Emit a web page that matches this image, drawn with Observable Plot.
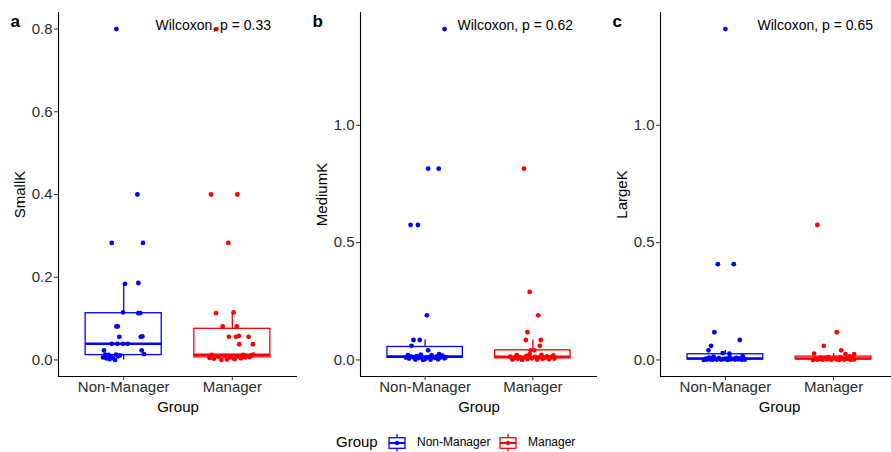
<!DOCTYPE html>
<html>
<head>
<meta charset="utf-8">
<script src="https://cdn.jsdelivr.net/npm/d3@7"></script>
<script src="https://cdn.jsdelivr.net/npm/@observablehq/plot@0.6"></script>
<style>
html, body { margin: 0; padding: 0; background: #fff; overflow: hidden; width: 891px; height: 452px; }
#wrap { position: relative; width: 891px; height: 452px; overflow: hidden; font-family: "Liberation Sans", Arial, sans-serif; }
.panel { position: absolute; top: 0; }
.lg { position: absolute; top: 432px; height: 20px; line-height: 20px; color: #000; white-space: nowrap; }
</style>
</head>
<body>
<div id="wrap"></div>
<script>
// ---------- data ----------
const groups = ["Non-Manager", "Manager"];
const groupColors = ["#0000FF", "#FF0000"];

// SmallK
const smallNonManager = [0.80, 0.40, 0.283, 0.283, 0.184, 0.186, 0.115, 0.113, 0.113, 0.081, 0.081, 0.056, 0.056, 0.057,
  0.039, 0.039, 0.039, 0.039, 0.023, 0.023, 0.014,
  0.000, 0.002, 0.004, 0.005, 0.006, 0.008, 0.009, 0.011, 0.012, 0.013, 0.013];
const smallNonManagerJitter = [-0.067, 0.126, -0.11, 0.178, 0.012, 0.135, -0.006, 0.135, 0.152, -0.067, -0.055, -0.04, 0.157, 0.172,
  -0.11, -0.058, -0.006, 0.037, -0.181, 0.166, 0.187,
  -0.08, -0.13, -0.16, -0.10, -0.19, -0.12, -0.05, -0.035, -0.14, -0.17, -0.07];
const smallManager = [0.80, 0.40, 0.40, 0.283, 0.113, 0.115, 0.081, 0.081, 0.056, 0.056, 0.058, 0.056, 0.038, 0.038,
  0.000, 0.001, 0.002, 0.003, 0.004, 0.005, 0.006, 0.006, 0.007, 0.008, 0.009, 0.010, 0.011, 0.012, 0.012, 0.013];
const smallManagerJitter = [-0.147, -0.196, 0.046, -0.037, -0.15, 0.012, -0.089, 0.041, -0.032, 0.034, 0.06, 0.15, 0.064, 0.19,
  -0.10, -0.05, 0.02, -0.17, 0.08, -0.21, 0.12, -0.02, 0.16, -0.13, 0.05, -0.07, 0.18, 0.10, -0.19, 0.19];

// MediumK
const mediumNonManager = [1.41, 0.815, 0.815, 0.575, 0.575, 0.19, 0.085, 0.085, 0.06, 0.041,
  0.000, 0.001, 0.002, 0.003, 0.004, 0.006, 0.007, 0.008, 0.009, 0.010, 0.010, 0.011, 0.011, 0.012, 0.012, 0.013,
  0.014, 0.015, 0.016, 0.018, 0.020, 0.021, 0.023, 0.025];
const mediumNonManagerJitter = [0.18, 0.028, 0.126, -0.135, -0.067, 0.016, -0.108, -0.05, -0.126, 0.028,
  -0.02, 0.05, -0.09, 0.12, 0.00, -0.15, 0.18, -0.06, 0.09, -0.18, 0.14, -0.11, 0.03, 0.19, -0.03, 0.07,
  -0.13, 0.11, -0.08, 0.16, -0.16, 0.06, -0.04, 0.13];
const mediumManager = [0.815, 0.29, 0.19, 0.118, 0.085, 0.085, 0.06, 0.041, 0.041,
  0.000, 0.001, 0.002, 0.003, 0.004, 0.005, 0.005, 0.006, 0.007, 0.008, 0.009, 0.010, 0.011, 0.012, 0.012, 0.013,
  0.014, 0.015, 0.017, 0.019, 0.020, 0.022, 0.025];
const mediumManagerJitter = [-0.083, -0.03, 0.05, -0.05, -0.065, 0.074, 0.065, -0.02, 0.012,
  -0.10, 0.04, -0.19, 0.15, -0.05, 0.09, -0.14, 0.20, -0.01, -0.17, 0.11, -0.08, 0.06, -0.12, 0.17, 0.02,
  -0.21, 0.13, -0.06, 0.19, -0.15, 0.08, -0.03];

// LargeK
const largeNonManager = [1.41, 0.408, 0.408, 0.118, 0.085, 0.06, 0.041, 0.029, 0.027,
  0.000, 0.000, 0.001, 0.001, 0.001, 0.002, 0.002, 0.002, 0.002, 0.003, 0.003, 0.003, 0.004, 0.004, 0.005, 0.005,
  0.006, 0.006, 0.007, 0.008, 0.009, 0.010, 0.012, 0.014, 0.016];
const largeNonManagerJitter = [0.0, -0.07, 0.077, -0.102, 0.133, -0.132, -0.157, -0.025, 0.037,
  -0.20, 0.02, -0.12, 0.15, -0.04, 0.09, -0.17, 0.18, -0.08, 0.05, -0.14, 0.12, -0.01, 0.17, -0.10, 0.07,
  -0.18, 0.01, 0.13, -0.06, 0.10, -0.15, 0.04, -0.11, 0.16];
const largeManager = [0.575, 0.118, 0.06, 0.041, 0.027, 0.025, 0.025,
  0.000, 0.000, 0.001, 0.001, 0.001, 0.002, 0.002, 0.002, 0.003, 0.003, 0.004, 0.004, 0.005, 0.005, 0.006, 0.006,
  0.007, 0.008, 0.009, 0.010, 0.011, 0.012, 0.015];
const largeManagerJitter = [-0.15, 0.03, -0.09, 0.07, -0.18, 0.11, 0.19,
  -0.19, 0.05, -0.10, 0.16, -0.02, 0.10, -0.15, 0.19, -0.06, 0.03, -0.13, 0.14, -0.04, 0.08, -0.17, 0.12,
  0.00, -0.09, 0.17, -0.12, 0.06, -0.05, 0.15];

const panelLetters = ["a", "b", "c"];
const yLabels = ["SmallK", "MediumK", "LargeK"];
const pLabels = ["Wilcoxon, p = 0.33", "Wilcoxon, p = 0.62", "Wilcoxon, p = 0.65"];
const smallTicks = [0, 0.2, 0.4, 0.6, 0.8];
const mediumTicks = [0, 0.5, 1.0];
const largeTicks = [0, 0.5, 1.0];

// ---------- helpers ----------
function points(vals, jit, gi) {
  return vals.map((v, k) => ({group: groups[gi], i: gi + 1, v, j: jit[k]}));
}
function boxStats(vals, gi) {
  const s = [...vals].sort(d3.ascending);
  const q1 = d3.quantileSorted(s, 0.25), med = d3.quantileSorted(s, 0.5), q3 = d3.quantileSorted(s, 0.75);
  const iqr = q3 - q1;
  const hi = d3.max(s.filter(v => v <= q3 + 1.5 * iqr));
  const lo = d3.min(s.filter(v => v >= q1 - 1.5 * iqr));
  return {group: groups[gi], i: gi + 1, q1, med, q3, hi, lo};
}

const panels = [
  {nm: smallNonManager, nmJ: smallNonManagerJitter, m: smallManager, mJ: smallManagerJitter, ticks: smallTicks, left: 0, ml: 58, mr: 3},
  {nm: mediumNonManager, nmJ: mediumNonManagerJitter, m: mediumManager, mJ: mediumManagerJitter, ticks: mediumTicks, left: 300, ml: 60, mr: 3},
  {nm: largeNonManager, nmJ: largeNonManagerJitter, m: largeManager, mJ: largeManagerJitter, ticks: largeTicks, left: 600, ml: 60, mr: 2}
];

const wrap = document.getElementById("wrap");
const hw = 0.35;

panels.forEach((p, idx) => {
  const pts = points(p.nm, p.nmJ, 0).concat(points(p.m, p.mJ, 1));
  const st = [boxStats(p.nm, 0), boxStats(p.m, 1)];
  const maxV = d3.max(pts, d => d.v), minV = Math.min(0, d3.min(pts, d => d.v));
  const pad = (maxV - minV) * 0.05;
  const yDom = [minV - pad, maxV + pad];

  const chart = Plot.plot({
    width: 300, height: 420,
    marginLeft: p.ml, marginRight: p.mr, marginTop: 12, marginBottom: 44,
    style: {fontFamily: '"Liberation Sans", Arial, sans-serif', fontSize: "15px", color: "#2b2b2b", background: "#fff"},
    x: {type: "linear", domain: [0.4, 2.6]},
    y: {domain: yDom},
    color: {domain: groups, range: groupColors},
    marks: [
      Plot.ruleX(st, {x: "i", y1: "q3", y2: "hi", stroke: "group", strokeWidth: 1.3}),
      Plot.ruleX(st, {x: "i", y1: "lo", y2: "q1", stroke: "group", strokeWidth: 1.3}),
      Plot.rect(st, {x1: d => d.i - hw, x2: d => d.i + hw, y1: "q1", y2: "q3", fill: "white", stroke: "group", strokeWidth: 1.3}),
      Plot.ruleY(st, {y: "med", x1: d => d.i - hw, x2: d => d.i + hw, stroke: "group", strokeWidth: 2.5}),
      Plot.dot(pts, {x: d => d.i + d.j, y: "v", fill: "group", r: 2.4, stroke: null}),
      Plot.axisY({ticks: p.ticks, tickFormat: d3.format(".1f"), tickSize: 4, tickPadding: 2, label: null, fontSize: 15}),
      Plot.axisX({ticks: [1, 2], tickFormat: d => groups[d - 1], tickSize: 4, tickPadding: 1, label: null, fontSize: 15}),
      Plot.ruleX([0.4], {stroke: "#000", strokeWidth: 1.1}),
      Plot.ruleY([yDom[0]], {stroke: "#000", strokeWidth: 1.1}),
      Plot.text([yLabels[idx]], {frameAnchor: "left", rotate: -90, dx: -38, textAnchor: "middle", lineAnchor: "middle", fontSize: 15, fill: "#000"}),
      Plot.text(["Group"], {frameAnchor: "bottom", dy: 31, textAnchor: "middle", lineAnchor: "middle", fontSize: 15, fill: "#000"}),
      Plot.text([pLabels[idx]], {frameAnchor: "top-left", dx: 97, dy: 17, textAnchor: "start", lineAnchor: "bottom", fontSize: 14, fill: "#000"}),
      Plot.text([panelLetters[idx]], {frameAnchor: "top-left", dx: -48, dy: 14, textAnchor: "start", lineAnchor: "bottom", fontSize: 17, fontWeight: "bold", fill: "#000"})
    ]
  });
  chart.classList.add("panel");
  chart.style.left = p.left + "px";
  wrap.appendChild(chart);
});

// ---------- legend ----------
function keyIcon(color) {
  return `<svg width="18" height="20" viewBox="0 0 18 20">
    <line x1="9" y1="2" x2="9" y2="19.5" stroke="${color}" stroke-width="1.3"/>
    <rect x="1" y="5.7" width="16" height="10.6" fill="white" stroke="${color}" stroke-width="1.3"/>
    <line x1="1" y1="11" x2="17" y2="11" stroke="${color}" stroke-width="2"/>
    <circle cx="9" cy="11" r="2.2" fill="${color}"/>
  </svg>`;
}
const lgItems = [
  {html: "Group", left: 336, size: 15},
  {html: keyIcon(groupColors[0]), left: 388, size: 12},
  {html: groups[0], left: 417, size: 12},
  {html: keyIcon(groupColors[1]), left: 499, size: 12},
  {html: groups[1], left: 528, size: 12}
];
lgItems.forEach(it => {
  const d = document.createElement("div");
  d.className = "lg";
  d.style.left = it.left + "px";
  d.style.fontSize = it.size + "px";
  d.innerHTML = it.html;
  wrap.appendChild(d);
});
</script>
</body>
</html>
